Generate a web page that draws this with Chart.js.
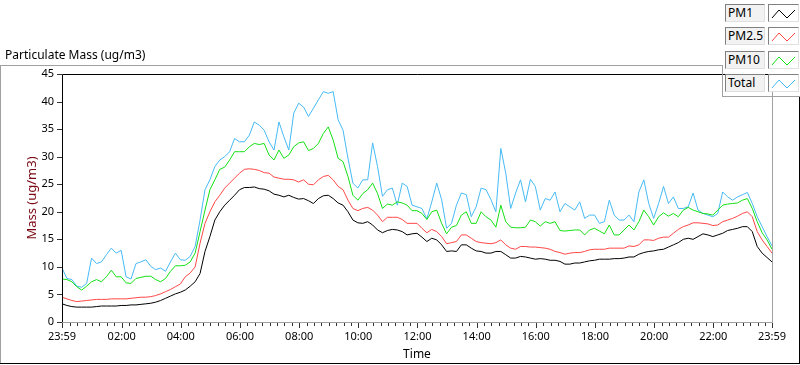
<!DOCTYPE html>
<html>
<head>
<meta charset="utf-8">
<script src="https://cdn.jsdelivr.net/npm/chart.js@4"></script>
<style>
    body { margin: 0; background: #fff; font-family: "Noto Sans", sans-serif; }
    #wrap { position: relative; width: 800px; height: 365px; overflow: hidden; }
    #wrap canvas { position: absolute; left: 0; top: 0; }
    .ln { position: absolute; }
    #title { position: absolute; left: 5px; top: 46px; font-size: 12px; color: #000; }
    .lg-label { position: absolute; left: 725px; width: 36px; height: 16px; background: #f2f2f2;
        border-top: 1px solid #808080; border-left: 1px solid #808080;
        border-bottom: 1px solid #e0e0e0; border-right: 1px solid #e0e0e0;
        font-size: 12px; line-height: 16px; padding-left: 2px; color: #000; }
    .lg-swatch { position: absolute; left: 768px; width: 29px; height: 16px; background: #fff;
        border-top: 1px solid #808080; border-left: 1px solid #808080;
        border-bottom: 1px solid #e0e0e0; border-right: 1px solid #e0e0e0; }
</style>
</head>
<body>
<div id="wrap">
    <canvas id="pmChart" width="800" height="365"></canvas>
    <!-- panel frame -->
    <div class="ln" style="left:0;top:65px;width:722px;height:1px;background:#a0a0a0"></div>
    <div class="ln" style="left:0;top:65px;width:1px;height:298px;background:#a0a0a0"></div>
    <div class="ln" style="left:0;top:363px;width:800px;height:1px;background:#000"></div>
    <div class="ln" style="left:799px;top:96px;width:1px;height:268px;background:#000"></div>
    <div class="ln" style="left:722px;top:65px;width:1px;height:31px;background:#a0a0a0"></div>
    <div class="ln" style="left:722px;top:96px;width:78px;height:1px;background:#a0a0a0"></div>
    <div id="title">Particulate Mass (ug/m3)</div>
    <div id="legend"></div>
</div>
<script>
// Sample times: minutes after 23:59, one reading every 10 minutes
const sampleMinutes = Array.from({ length: 145 }, (_, i) => i * 10);

const pm1 = [
    3.3, 3.0, 2.8, 2.7, 2.7, 2.7, 2.7, 2.8, 2.9, 2.9, 2.9, 2.9, 3.0, 3.0, 3.1, 3.1, 3.2, 3.3, 3.4, 3.6, 3.9, 4.3, 4.7, 5.1, 5.4,
    5.8, 6.5, 7.3, 8.8, 12.8, 15.5, 18.5, 20.0, 21.2, 22.1, 23.0, 24.0, 24.4, 24.4, 24.5, 24.2, 24.1, 23.8, 23.2, 23.0, 22.7, 23.0, 22.6, 22.3,
    22.4, 22.0, 21.5, 22.4, 22.9, 23.0, 22.4, 21.6, 21.2, 20.0, 18.5, 18.0, 17.9, 18.2, 17.6, 16.7, 16.2, 16.6, 16.8, 16.7, 16.4, 15.8, 16.0, 16.1,
    15.4, 14.6, 15.2, 14.9, 14.0, 12.8, 12.9, 12.8, 14.0, 14.0, 13.4, 12.9, 12.8, 12.5, 12.5, 12.8, 12.8, 12.2, 11.6, 11.6, 11.9, 11.8, 11.6, 11.4,
    11.5, 11.4, 11.2, 11.2, 11.0, 10.5, 10.5, 10.7, 10.7, 10.9, 11.1, 11.2, 11.4, 11.4, 11.4, 11.5, 11.5, 11.6, 11.8, 11.8, 12.3, 12.6, 12.8, 12.9,
    13.1, 13.2, 13.6, 14.0, 14.4, 15.0, 15.2, 15.0, 15.5, 16.0, 15.8, 15.5, 15.8, 16.1, 16.6, 16.8, 17.0, 17.3, 17.3, 16.4, 13.7, 12.5, 11.7, 10.9
];
const pm25 = [
    4.5, 4.2, 3.9, 3.7, 3.8, 3.9, 4.0, 4.1, 4.1, 4.1, 4.2, 4.2, 4.2, 4.2, 4.3, 4.4, 4.5, 4.5, 4.6, 4.8, 5.1, 5.5, 5.9, 6.4, 6.9,
    8.2, 8.9, 10.0, 14.3, 17.9, 20.0, 21.8, 23.0, 24.3, 25.2, 26.1, 27.0, 27.7, 27.8, 27.7, 27.5, 27.1, 27.0, 26.3, 26.1, 25.9, 25.9, 25.8, 25.4,
    25.8, 25.0, 24.9, 25.8, 26.4, 26.6, 25.8, 24.6, 24.0, 22.1, 20.6, 20.2, 20.6, 20.8, 20.3, 19.4, 18.2, 19.0, 19.0, 19.0, 18.6, 17.9, 17.9, 17.9,
    17.0, 16.2, 16.8, 16.4, 15.5, 14.2, 14.4, 14.6, 15.8, 15.8, 15.2, 14.6, 14.4, 14.3, 14.2, 14.4, 14.9, 14.0, 13.4, 13.2, 13.7, 13.7, 13.6, 13.6,
    13.5, 13.4, 13.2, 12.8, 12.6, 12.3, 12.5, 12.6, 12.6, 12.8, 13.1, 13.2, 13.2, 13.2, 13.4, 13.4, 13.4, 13.4, 13.8, 13.7, 14.0, 14.9, 14.9, 14.8,
    15.2, 15.4, 15.4, 16.1, 16.8, 17.3, 17.6, 18.0, 18.0, 17.9, 17.8, 17.5, 17.6, 18.2, 18.5, 18.8, 19.2, 19.7, 20.0, 19.1, 16.4, 14.9, 13.7, 12.5
];
const pm10 = [
    7.8, 7.7, 7.3, 6.4, 5.8, 6.5, 7.3, 7.7, 7.3, 8.2, 9.4, 8.2, 8.2, 7.1, 7.0, 7.9, 8.1, 8.3, 8.3, 7.7, 7.3, 7.9, 9.2, 10.2, 10.2,
    10.3, 10.9, 12.5, 16.4, 20.3, 24.0, 25.8, 27.7, 28.1, 29.4, 30.9, 30.9, 30.9, 31.8, 32.4, 32.2, 32.4, 30.3, 29.4, 31.2, 29.7, 30.3, 31.8, 32.5,
    32.7, 31.1, 31.5, 32.4, 34.2, 35.4, 33.0, 29.7, 29.1, 26.4, 23.0, 22.1, 23.3, 24.0, 25.2, 23.3, 20.6, 21.4, 21.2, 21.8, 21.6, 21.2, 20.2, 20.2,
    19.7, 18.6, 20.0, 20.3, 17.9, 16.0, 17.2, 17.5, 19.4, 20.0, 17.9, 17.9, 20.0, 19.1, 18.5, 17.2, 21.2, 18.2, 17.2, 17.1, 17.1, 17.2, 18.5, 18.2,
    17.4, 18.2, 17.9, 18.2, 16.6, 16.5, 16.6, 16.7, 16.7, 15.8, 16.7, 17.0, 16.5, 16.0, 17.6, 15.8, 15.8, 16.7, 17.6, 16.7, 18.2, 20.3, 19.1, 17.6,
    19.1, 19.8, 19.2, 19.7, 19.1, 20.3, 20.8, 20.3, 20.0, 19.7, 19.6, 19.4, 20.3, 21.2, 21.4, 21.5, 21.6, 22.1, 22.4, 20.6, 18.2, 16.2, 14.9, 13.2
];
const total = [
    9.8, 7.9, 7.7, 6.5, 6.3, 7.0, 11.6, 10.6, 10.9, 12.2, 13.4, 12.5, 13.0, 8.2, 7.8, 10.6, 10.9, 11.3, 10.1, 9.5, 9.8, 9.2, 10.9, 12.5, 11.3,
    11.2, 11.9, 13.7, 18.5, 24.0, 25.8, 28.2, 29.4, 30.0, 30.9, 33.3, 32.7, 32.7, 33.9, 36.3, 35.7, 34.8, 32.7, 31.2, 36.3, 33.6, 31.2, 37.9, 39.7,
    39.0, 37.3, 38.8, 40.3, 41.8, 41.5, 41.8, 36.7, 34.8, 29.7, 25.2, 24.3, 25.8, 25.8, 32.5, 28.2, 22.8, 24.0, 24.3, 21.2, 25.2, 24.6, 21.2, 20.9,
    20.6, 18.7, 21.8, 25.2, 22.2, 17.0, 17.9, 21.2, 23.4, 23.1, 19.1, 20.9, 24.3, 24.0, 22.2, 20.0, 31.5, 27.0, 20.6, 23.4, 25.8, 21.8, 25.9, 24.6,
    20.3, 22.4, 22.1, 23.6, 20.0, 21.5, 20.9, 20.3, 21.8, 18.8, 19.4, 19.4, 17.9, 18.2, 22.1, 19.4, 18.5, 18.5, 19.4, 18.2, 23.6, 25.8, 21.5, 18.8,
    21.5, 24.6, 21.5, 22.7, 20.6, 20.6, 20.9, 23.4, 20.3, 19.7, 19.4, 19.1, 19.7, 23.6, 22.7, 22.1, 22.7, 23.1, 23.5, 21.5, 19.1, 17.3, 15.5, 13.8
];

// Axis ticks
const xTickMinutes = [0, 121, 241, 361, 481, 601, 721, 841, 961, 1081, 1201, 1321, 1440];
const xTickLabels = ['23:59', '02:00', '04:00', '06:00', '08:00', '10:00', '12:00', '14:00', '16:00', '18:00', '20:00', '22:00', '23:59'];
const yTickValues = [0, 5, 10, 15, 20, 25, 30, 35, 40, 45];

const seriesNames = ['PM1', 'PM2.5', 'PM10', 'Total'];
const seriesColors = ['#000000', '#ff4646', '#14e014', '#46baf4'];
const seriesValues = [pm1, pm25, pm10, total];

const tickFont = { family: 'Noto Sans', size: 11 };

// minor x ticks every 15 minutes after 00:00
function minorTicks() {
    const out = [];
    for (let n = 1; n < 96; n++) {
        if (n % 8 !== 0) out.push(1 + n * 15);
    }
    return out;
}

// plot frame and tick marks, LabVIEW style
const framePlugin = {
    id: 'frame',
    afterDraw(chart) {
        const ctx = chart.ctx;
        const a = chart.chartArea;
        const xs = chart.scales.x;
        const ys = chart.scales.y;
        ctx.save();
        ctx.lineWidth = 1;
        ctx.strokeStyle = '#000';
        ctx.beginPath();
        ctx.moveTo(Math.round(a.left) + 0.5, Math.round(a.bottom));
        ctx.lineTo(Math.round(a.left) + 0.5, Math.round(a.top) + 0.5);
        ctx.lineTo(Math.round(a.right), Math.round(a.top) + 0.5);
        ctx.stroke();
        ctx.strokeStyle = '#a0a0a0';
        ctx.beginPath();
        ctx.moveTo(Math.round(a.right) + 0.5, Math.round(a.top) + 1);
        ctx.lineTo(Math.round(a.right) + 0.5, Math.round(a.bottom) + 0.5);
        ctx.lineTo(Math.round(a.left), Math.round(a.bottom) + 0.5);
        ctx.stroke();

        ctx.strokeStyle = '#333';
        ctx.beginPath();
        yTickValues.forEach(v => {
            const y = Math.round(ys.getPixelForValue(v)) + 0.5;
            ctx.moveTo(a.left - 5, y);
            ctx.lineTo(a.left, y);
        });
        xTickMinutes.forEach(m => {
            const x = Math.round(xs.getPixelForValue(m)) + 0.5;
            ctx.moveTo(x, a.bottom + 1);
            ctx.lineTo(x, a.bottom + 6);
        });
        minorTicks().forEach(m => {
            const x = Math.round(xs.getPixelForValue(m)) + 0.5;
            ctx.moveTo(x, a.bottom + 1);
            ctx.lineTo(x, a.bottom + 4);
        });
        ctx.stroke();
        ctx.restore();
    }
};

function buildLegend() {
    const box = document.getElementById('legend');
    seriesNames.forEach((name, i) => {
        const top = 4 + i * 23.3;
        const label = document.createElement('div');
        label.className = 'lg-label';
        label.style.top = top + 'px';
        label.textContent = name;
        box.appendChild(label);
        const sw = document.createElement('div');
        sw.className = 'lg-swatch';
        sw.style.top = top + 'px';
        sw.innerHTML = '<svg width="29" height="16"><polyline points="3,12 10,4 18,12 26,4" fill="none" stroke="' +
            seriesColors[i] + '" stroke-width="1"/></svg>';
        box.appendChild(sw);
    });
}

function initChart() {
    const ctx = document.getElementById('pmChart');
    new Chart(ctx, {
        type: 'line',
        data: {
            datasets: seriesValues.map((vals, i) => ({
                label: seriesNames[i],
                data: vals.map((v, k) => ({ x: sampleMinutes[k], y: v })),
                borderColor: seriesColors[i],
                borderWidth: 1,
                pointRadius: 0,
                tension: 0,
                fill: false
            }))
        },
        options: {
            responsive: false,
            animation: false,
            layout: { padding: { left: 0, top: 74, right: 28, bottom: 0 } },
            plugins: {
                legend: { display: false },
                tooltip: { enabled: false },
                title: { display: false }
            },
            scales: {
                x: {
                    type: 'linear',
                    min: 0,
                    max: 1440,
                    border: { display: false },
                    grid: { display: false, drawTicks: false },
                    afterBuildTicks: s => { s.ticks = xTickMinutes.map(v => ({ value: v })); },
                    afterFit: s => { s.height = 43; },
                    ticks: {
                        autoSkip: false,
                        maxRotation: 0,
                        padding: 8,
                        color: '#000',
                        font: tickFont,
                        callback: (v) => xTickLabels[xTickMinutes.indexOf(v)]
                    },
                    title: { display: true, text: 'Time', color: '#000', font: { family: 'Noto Sans', size: 12 }, padding: { top: 0, bottom: 3 } }
                },
                y: {
                    min: 0,
                    max: 45,
                    border: { display: false },
                    grid: { display: false, drawTicks: false },
                    afterBuildTicks: s => { s.ticks = yTickValues.map(v => ({ value: v })); },
                    afterFit: s => { s.width = 62; },
                    ticks: { padding: 8, color: '#000', font: tickFont },
                    title: { display: true, text: 'Mass (ug/m3)', color: '#7a0a14', font: { family: 'Noto Sans', size: 13 }, padding: { top: 24, bottom: 0 } }
                }
            }
        },
        plugins: [framePlugin]
    });
}

buildLegend();
initChart();
</script>
</body>
</html>
